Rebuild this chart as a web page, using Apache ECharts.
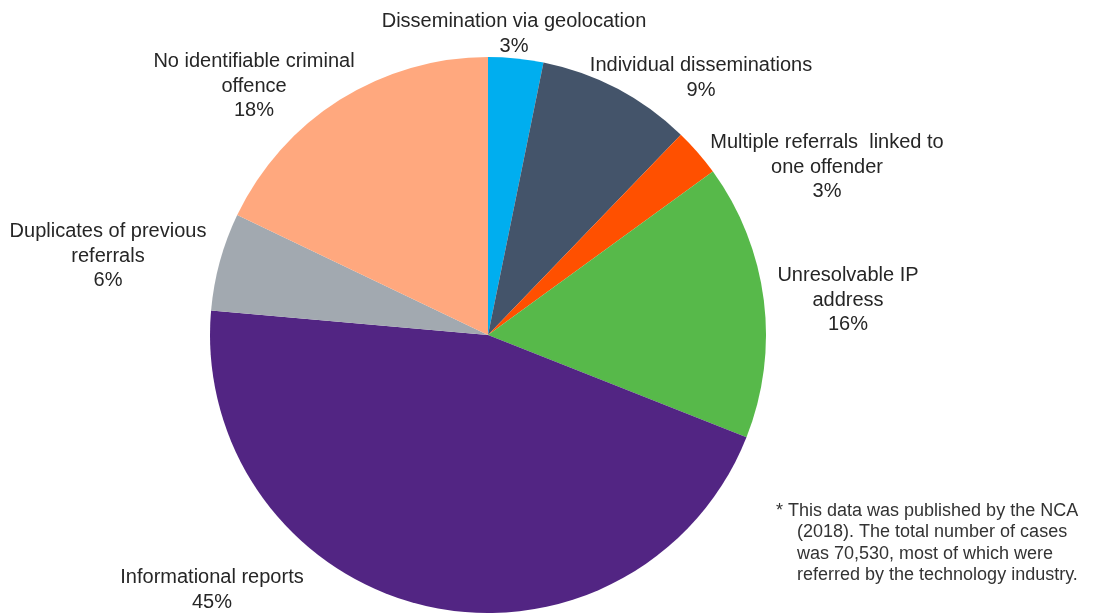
<!DOCTYPE html>
<html>
<head>
<meta charset="utf-8">
<script src="https://cdn.jsdelivr.net/npm/echarts@6/dist/echarts.min.js"></script>
<style>
  html, body { margin: 0; padding: 0; background: #fff; }
  #chart { width: 1094px; height: 613px; }
</style>
</head>
<body>
<div id="chart"></div>
<script>
const categories = [
    'Dissemination via geolocation',
    'Individual disseminations',
    'Multiple referrals  linked to\none offender',
    'Unresolvable IP\naddress',
    'Informational reports',
    'Duplicates of previous\nreferrals',
    'No identifiable criminal\noffence'
];
const shares = [3.2, 9.0, 2.8, 16.0, 45.4, 5.7, 17.9];
const footnote = [
    '* This data was published by the NCA',
    '(2018). The total number of cases',
    'was 70,530, most of which were',
    'referred by the technology industry.'
];

const colors = ['#00AEEF', '#44546A', '#FF5000', '#57B94A', '#522583', '#A2A9B0', '#FFA87E'];
// centre of each label block, in px
const labelSpots = [[514, 34], [701, 78], [827, 167], [848, 300], [212, 590], [108, 256], [254, 86]];

const chart = echarts.init(document.getElementById('chart'));

let data = [];
for (let i = 0; i < categories.length; i++) {
    data.push({ name: categories[i], value: shares[i], itemStyle: { color: colors[i] } });
}

const option = {
    backgroundColor: '#fff',
    animation: false,
    textStyle: { fontFamily: 'Liberation Sans, Arial, sans-serif' },
    series: [{
        type: 'pie',
        center: [488, 335],
        radius: 278,
        startAngle: 90,
        clockwise: true,
        data: data,
        label: {
            show: true,
            position: 'outside',
            color: '#262626',
            fontSize: 20,
            lineHeight: 24.5,
            overflow: 'none',
            formatter: p => p.name + '\n' + Math.round(p.percent) + '%'
        },
        labelLine: { show: false },
        labelLayout: function (params) {
            const s = labelSpots[params.dataIndex];
            return { x: s[0], y: s[1], align: 'center', verticalAlign: 'middle' };
        }
    }],
    graphic: footnote.map((t, i) => ({
        type: 'text',
        left: i === 0 ? 776 : 797,
        top: 502 + i * 21.3,
        style: { text: t, fill: '#333', font: '18px Liberation Sans, Arial, sans-serif' }
    }))
};
chart.setOption(option);
</script>
</body>
</html>
